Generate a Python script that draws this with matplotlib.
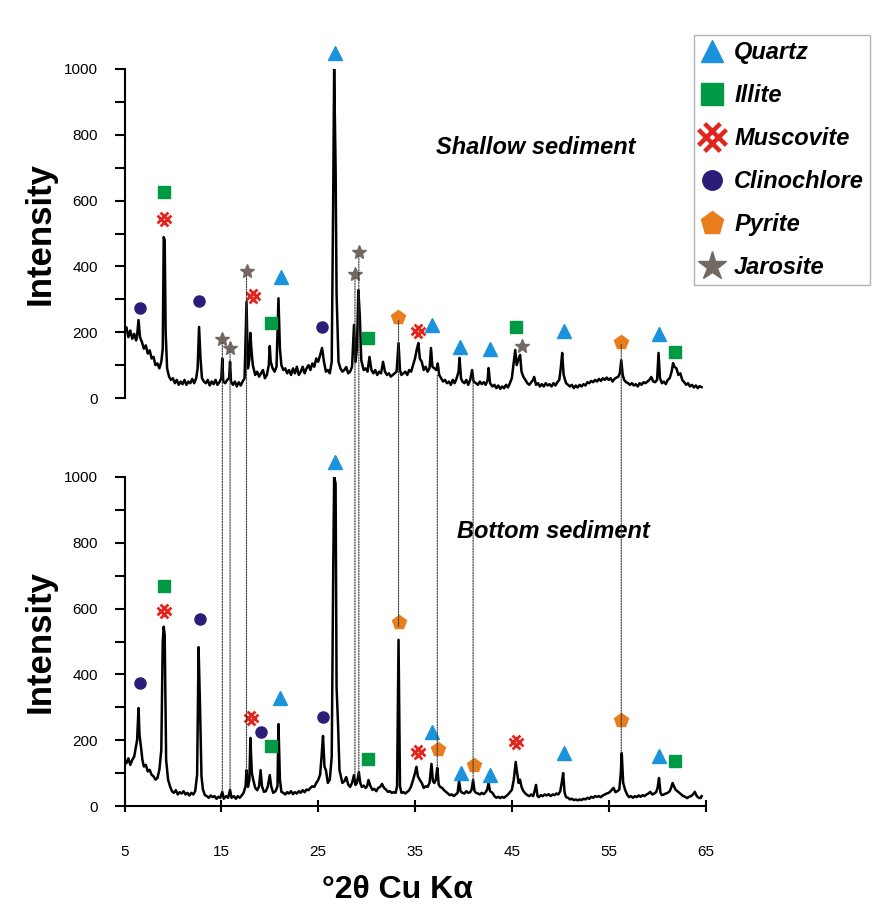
import numpy as np
import matplotlib
matplotlib.use("Agg")
import matplotlib.pyplot as plt
from matplotlib.lines import Line2D
from matplotlib.path import Path
from matplotlib.patches import ConnectionPatch

# =============================================================================
# 1. DIFFRACTOGRAMS (2theta, intensity)
# =============================================================================

shallow_trace = [
    (5.0, 200), (5.2, 215), (5.4, 185), (5.6, 205), (5.8, 180), (6.0, 195), (6.2, 175),
    (6.3, 190), (6.45, 237), (6.6, 185), (6.8, 170), (7.0, 150), (7.2, 160), (7.4, 135),
    (7.6, 145), (7.8, 120), (8.0, 125), (8.2, 100), (8.4, 105), (8.6, 90), (8.8, 110),
    (8.95, 150), (9.05, 489), (9.15, 480), (9.25, 200), (9.4, 90), (9.6, 65), (9.8, 55),
    (10.0, 60), (10.2, 45), (10.4, 55), (10.6, 40), (10.8, 50), (11.0, 42), (11.2, 55),
    (11.4, 40), (11.6, 50), (11.8, 45), (12.0, 58), (12.2, 45), (12.4, 60), (12.55, 90),
    (12.7, 216), (12.85, 120), (13.0, 60), (13.2, 50), (13.4, 45), (13.6, 55), (13.8, 38),
    (14.0, 50), (14.2, 42), (14.4, 55), (14.6, 40), (14.8, 48), (15.0, 60), (15.1, 120),
    (15.2, 50), (15.4, 45), (15.6, 55), (15.8, 60), (15.9, 110), (16.0, 50), (16.2, 40),
    (16.4, 50), (16.6, 35), (16.8, 48), (17.0, 38), (17.2, 50), (17.4, 60), (17.6, 292),
    (17.75, 90), (17.9, 120), (18.0, 198), (18.1, 150), (18.25, 100), (18.5, 70), (18.7, 80),
    (18.9, 65), (19.1, 75), (19.3, 85), (19.5, 60), (19.7, 70), (19.9, 100), (20.0, 158),
    (20.1, 110), (20.3, 90), (20.5, 80), (20.7, 95), (20.9, 303), (21.05, 150), (21.2, 100),
    (21.4, 85), (21.6, 90), (21.8, 75), (22.0, 85), (22.2, 70), (22.4, 90), (22.6, 75),
    (22.8, 95), (23.0, 70), (23.2, 80), (23.4, 95), (23.6, 75), (23.8, 90), (24.0, 100),
    (24.2, 85), (24.4, 105), (24.6, 95), (24.8, 120), (25.0, 110), (25.2, 130), (25.4, 152),
    (25.6, 110), (25.8, 80), (26.0, 85), (26.2, 75), (26.4, 110), (26.55, 600), (26.65, 1000),
    (26.8, 700), (26.9, 318), (27.1, 110), (27.3, 90), (27.5, 80), (27.7, 85), (27.9, 94),
    (28.1, 75), (28.3, 80), (28.5, 95), (28.7, 222), (28.85, 110), (29.0, 150), (29.15, 328),
    (29.3, 250), (29.45, 115), (29.7, 85), (29.9, 90), (30.1, 80), (30.3, 125), (30.5, 85),
    (30.7, 75), (30.9, 85), (31.1, 70), (31.3, 80), (31.5, 75), (31.7, 110), (31.9, 80),
    (32.1, 70), (32.3, 75), (32.5, 65), (32.7, 70), (32.9, 75), (33.1, 80), (33.3, 167),
    (33.45, 85), (33.6, 70), (33.8, 75), (34.0, 80), (34.2, 70), (34.4, 85), (34.6, 80),
    (34.8, 100), (35.0, 120), (35.2, 150), (35.35, 167), (35.5, 120), (35.7, 110), (35.9, 85),
    (36.1, 95), (36.3, 80), (36.5, 90), (36.65, 152), (36.8, 95), (37.0, 90), (37.2, 85),
    (37.35, 105), (37.5, 70), (37.7, 60), (37.9, 50), (38.1, 55), (38.3, 45), (38.5, 50),
    (38.7, 40), (38.9, 55), (39.1, 45), (39.3, 60), (39.5, 80), (39.6, 122), (39.75, 60),
    (39.9, 50), (40.1, 45), (40.3, 55), (40.5, 40), (40.7, 55), (40.9, 85), (41.05, 50),
    (41.3, 45), (41.5, 40), (41.7, 50), (41.9, 42), (42.1, 48), (42.3, 40), (42.5, 55),
    (42.6, 91), (42.75, 45), (43.0, 35), (43.2, 40), (43.4, 30), (43.6, 38), (43.8, 28),
    (44.0, 35), (44.2, 30), (44.4, 40), (44.6, 32), (44.8, 45), (45.0, 60), (45.2, 110),
    (45.35, 146), (45.5, 100), (45.7, 120), (45.85, 131), (46.0, 80), (46.2, 64), (46.4, 55),
    (46.6, 45), (46.8, 40), (47.0, 48), (47.2, 55), (47.3, 64), (47.5, 40), (47.7, 45),
    (47.9, 35), (48.1, 42), (48.3, 35), (48.5, 45), (48.7, 38), (48.9, 42), (49.1, 35),
    (49.3, 45), (49.5, 38), (49.7, 48), (49.9, 55), (50.05, 90), (50.2, 137), (50.35, 70),
    (50.6, 45), (50.8, 40), (51.0, 35), (51.2, 40), (51.4, 30), (51.6, 38), (51.8, 32),
    (52.0, 40), (52.2, 35), (52.4, 42), (52.6, 38), (52.8, 48), (53.0, 45), (53.2, 52),
    (53.4, 48), (53.6, 55), (53.8, 50), (54.0, 58), (54.2, 52), (54.4, 60), (54.6, 55),
    (54.8, 62), (55.0, 55), (55.2, 60), (55.4, 50), (55.6, 58), (55.8, 62), (56.0, 65),
    (56.15, 75), (56.3, 115), (56.45, 70), (56.6, 55), (56.8, 48), (57.0, 45), (57.2, 40),
    (57.4, 45), (57.6, 38), (57.8, 42), (58.0, 35), (58.2, 45), (58.4, 40), (58.6, 48),
    (58.8, 45), (59.0, 50), (59.2, 55), (59.4, 64), (59.6, 50), (59.8, 48), (60.0, 55),
    (60.15, 137), (60.3, 60), (60.5, 45), (60.7, 50), (60.9, 42), (61.1, 55), (61.3, 60),
    (61.5, 80), (61.65, 106), (61.8, 95), (62.0, 90), (62.2, 70), (62.4, 75), (62.6, 55),
    (62.8, 48), (63.0, 40), (63.2, 45), (63.4, 35), (63.6, 40), (63.8, 32), (64.0, 38),
    (64.2, 30), (64.4, 36), (64.6, 33),
]

bottom_trace = [
    (5.0, 140), (5.2, 130), (5.4, 145), (5.6, 125), (5.8, 140), (6.0, 150), (6.15, 175),
    (6.3, 200), (6.45, 298), (6.55, 215), (6.7, 180), (6.85, 140), (7.0, 120), (7.2, 125),
    (7.4, 105), (7.6, 110), (7.8, 95), (8.0, 90), (8.2, 80), (8.4, 85), (8.6, 110),
    (8.8, 170), (8.95, 500), (9.05, 545), (9.15, 520), (9.3, 140), (9.5, 80), (9.7, 60),
    (9.9, 45), (10.1, 40), (10.3, 48), (10.5, 35), (10.7, 42), (10.9, 38), (11.1, 45),
    (11.3, 35), (11.5, 40), (11.7, 32), (11.9, 40), (12.1, 35), (12.3, 45), (12.5, 95),
    (12.65, 483), (12.8, 300), (12.95, 90), (13.1, 50), (13.3, 33), (13.5, 30), (13.7, 25),
    (13.9, 32), (14.1, 27), (14.3, 30), (14.5, 22), (14.7, 28), (14.9, 25), (15.1, 43),
    (15.25, 22), (15.5, 30), (15.7, 25), (15.9, 49), (16.05, 25), (16.3, 30), (16.5, 22),
    (16.7, 30), (16.9, 25), (17.1, 32), (17.3, 40), (17.5, 60), (17.6, 109), (17.75, 58),
    (17.9, 80), (18.0, 207), (18.15, 100), (18.3, 79), (18.5, 55), (18.7, 48), (18.9, 60),
    (19.05, 109), (19.2, 60), (19.4, 43), (19.6, 45), (19.8, 60), (20.0, 94), (20.15, 60),
    (20.35, 40), (20.6, 45), (20.8, 60), (20.9, 249), (21.05, 80), (21.2, 43), (21.4, 40),
    (21.6, 35), (21.8, 42), (22.0, 38), (22.2, 45), (22.4, 36), (22.6, 42), (22.8, 38),
    (23.0, 45), (23.2, 40), (23.4, 48), (23.6, 42), (23.8, 50), (24.0, 48), (24.2, 55),
    (24.4, 60), (24.6, 58), (24.8, 70), (25.0, 79), (25.2, 95), (25.35, 150), (25.5, 213),
    (25.65, 120), (25.8, 109), (26.0, 70), (26.2, 80), (26.4, 150), (26.55, 700), (26.65, 1000),
    (26.8, 980), (26.9, 362), (27.05, 250), (27.2, 109), (27.5, 70), (27.7, 75), (27.9, 88),
    (28.1, 65), (28.3, 58), (28.5, 70), (28.7, 94), (28.85, 64), (29.0, 70), (29.2, 103),
    (29.35, 70), (29.5, 58), (29.7, 62), (29.9, 55), (30.05, 60), (30.2, 79), (30.4, 60),
    (30.6, 49), (30.8, 52), (31.0, 45), (31.2, 55), (31.4, 58), (31.6, 67), (31.8, 55),
    (32.0, 50), (32.2, 43), (32.4, 45), (32.6, 40), (32.8, 42), (33.0, 40), (33.15, 60),
    (33.3, 505), (33.45, 60), (33.6, 40), (33.8, 42), (34.0, 38), (34.2, 43), (34.4, 48),
    (34.6, 60), (34.8, 79), (35.0, 100), (35.15, 119), (35.3, 90), (35.5, 79), (35.7, 70),
    (35.9, 55), (36.1, 60), (36.3, 58), (36.5, 70), (36.7, 128), (36.85, 75), (37.0, 70),
    (37.15, 80), (37.3, 116), (37.45, 65), (37.6, 58), (37.8, 55), (38.0, 48), (38.2, 43),
    (38.4, 38), (38.6, 33), (38.8, 35), (39.0, 30), (39.2, 35), (39.4, 40), (39.55, 76),
    (39.7, 45), (39.9, 40), (40.1, 38), (40.3, 45), (40.5, 40), (40.7, 42), (40.85, 50),
    (41.0, 79), (41.15, 45), (41.3, 40), (41.5, 38), (41.7, 35), (41.9, 40), (42.1, 36),
    (42.3, 42), (42.45, 50), (42.6, 70), (42.75, 45), (43.0, 40), (43.2, 30), (43.4, 25),
    (43.6, 28), (43.8, 24), (44.0, 28), (44.2, 25), (44.4, 30), (44.6, 35), (44.8, 42),
    (45.0, 49), (45.2, 80), (45.4, 134), (45.55, 100), (45.7, 70), (45.85, 80), (46.0, 58),
    (46.2, 45), (46.4, 38), (46.6, 33), (46.8, 30), (47.0, 35), (47.2, 30), (47.35, 45),
    (47.5, 64), (47.65, 30), (47.8, 27), (48.0, 33), (48.2, 30), (48.4, 35), (48.6, 32),
    (48.8, 36), (49.0, 30), (49.2, 35), (49.4, 33), (49.6, 38), (49.8, 35), (50.0, 45),
    (50.15, 70), (50.3, 100), (50.45, 40), (50.6, 27), (50.8, 25), (51.0, 20), (51.2, 22),
    (51.4, 18), (51.6, 20), (51.8, 17), (52.0, 20), (52.2, 18), (52.4, 22), (52.6, 20),
    (52.8, 25), (53.0, 22), (53.2, 28), (53.4, 25), (53.6, 30), (53.8, 28), (54.0, 30),
    (54.2, 27), (54.4, 32), (54.6, 35), (54.8, 38), (55.0, 40), (55.2, 45), (55.5, 55),
    (55.7, 42), (55.9, 45), (56.1, 50), (56.25, 100), (56.35, 161), (56.5, 70), (56.7, 49),
    (56.9, 35), (57.1, 27), (57.3, 30), (57.5, 25), (57.7, 30), (57.9, 27), (58.1, 32),
    (58.3, 28), (58.5, 33), (58.7, 30), (58.9, 35), (59.1, 38), (59.3, 43), (59.5, 35),
    (59.7, 38), (59.9, 42), (60.05, 55), (60.2, 85), (60.35, 40), (60.5, 33), (60.7, 35),
    (60.9, 38), (61.1, 40), (61.3, 45), (61.45, 55), (61.6, 70), (61.75, 60), (61.9, 50),
    (62.1, 45), (62.3, 40), (62.5, 35), (62.7, 30), (62.9, 28), (63.1, 24), (63.3, 28),
    (63.5, 30), (63.7, 35), (63.9, 43), (64.1, 30), (64.3, 25), (64.5, 24), (64.6, 30),
]

# =============================================================================
# 2. PHASE MARKERS (2theta, height of symbol)
# =============================================================================

minerals = ["Quartz", "Illite", "Muscovite", "Clinochlore", "Pyrite", "Jarosite"]

shallow_marks = {
    "Quartz": ([21.2, 26.75, 36.75, 39.6, 42.7, 50.4, 60.15],
               [368, 1049, 222, 155, 149, 204, 195]),
    "Illite": ([9.12, 20.15, 30.15, 45.4, 61.8], [626, 228, 182, 216, 140]),
    "Muscovite": ([9.12, 18.3, 35.3], [544, 310, 204]),
    "Clinochlore": ([6.65, 12.7, 25.4], [274, 295, 216]),
    "Pyrite": ([33.25, 56.3], [246, 170]),
    "Jarosite": ([15.1, 15.9, 17.6, 28.8, 29.2, 46.1], [179, 152, 386, 377, 444, 158]),
}

bottom_marks = {
    "Quartz": ([21.1, 26.75, 36.75, 39.7, 42.7, 50.35, 60.15],
               [327, 1046, 225, 100, 94, 161, 153]),
    "Illite": ([9.12, 20.15, 30.15, 61.8], [669, 182, 143, 137]),
    "Muscovite": ([9.12, 18.1, 35.3, 45.4], [593, 267, 164, 195]),
    "Clinochlore": ([6.55, 12.8, 19.1, 25.5], [374, 568, 226, 271]),
    "Pyrite": ([33.35, 37.35, 41.1, 56.3], [559, 173, 125, 261]),
}

# dotted guide lines: 2theta, start in shallow panel, end in bottom panel
guide_x = [15.1, 15.9, 17.6, 28.8, 29.2, 33.3, 37.3, 41.0, 56.3]
guide_top = [168, 142, 372, 365, 432, 235, 70, 70, 162]
guide_bottom = [40, 45, 100, 90, 95, 545, 112, 75, 160]

# =============================================================================
# 3. STYLE
# =============================================================================

# muscovite symbol: a double-stroked X
_o = 0.28
_verts = [(-1 - _o, -1 + _o), (1 - _o, 1 + _o), (-1 + _o, -1 - _o), (1 + _o, 1 - _o),
          (-1 + _o, 1 + _o), (1 + _o, -1 + _o), (-1 - _o, 1 - _o), (1 - _o, -1 - _o)]
_codes = [Path.MOVETO, Path.LINETO] * 4
musc_marker = Path(_verts, _codes)

styles = {
    "Quartz": dict(marker="^", color="#1b93dc", ms=9.5, big=16),
    "Illite": dict(marker="s", color="#009a44", ms=8.5, big=16),
    "Muscovite": dict(marker=musc_marker, color="#e2261d", ms=10, big=20),
    "Clinochlore": dict(marker="o", color="#2b1d78", ms=8, big=14),
    "Pyrite": dict(marker="p", color="#e87e1e", ms=10, big=17),
    "Jarosite": dict(marker="*", color="#736964", ms=10, big=21),
}

plt.rcParams["font.family"] = ["Liberation Sans", "DejaVu Sans"]


def draw_marks(ax, marks):
    for name, (xs, ys) in marks.items():
        st = styles[name]
        if name == "Muscovite":
            ax.plot(xs, ys, linestyle="none", marker=st["marker"], ms=st["ms"],
                    mfc="none", mec=st["color"], mew=2.0, clip_on=False, zorder=5)
        else:
            ax.plot(xs, ys, linestyle="none", marker=st["marker"], ms=st["ms"],
                    color=st["color"], mec=st["color"], clip_on=False, zorder=5)


def style_axis(ax):
    ax.set_xlim(5, 65)
    ax.set_ylim(0, 1000)
    ax.set_yticks(np.arange(0, 1001, 200))
    ax.set_yticks(np.arange(100, 1000, 200), minor=True)
    ax.tick_params(axis="y", which="both", direction="out", length=7, width=1.5, pad=12,
                   labelsize=11)
    ax.spines["left"].set_linewidth(1.5)
    ax.spines["top"].set_visible(False)
    ax.spines["right"].set_visible(False)
    ax.set_ylabel("Intensity", fontsize=25, fontweight="bold")
    ax.yaxis.set_label_coords(-0.116, 0.5)
    ax.patch.set_alpha(0)


fig = plt.figure(figsize=(8.85, 9.10), dpi=100)
left, width = 124.5 / 885, 581 / 885
ax1 = fig.add_axes([left, 1 - 398 / 910, width, 329 / 910])
ax2 = fig.add_axes([left, 1 - 806 / 910, width, 329 / 910])

sx, sy = zip(*shallow_trace)
bx, by = zip(*bottom_trace)
ax1.plot(sx, sy, color="black", lw=1.8, zorder=3)
ax2.plot(bx, by, color="black", lw=1.8, zorder=3)

style_axis(ax1)
style_axis(ax2)
ax1.spines["bottom"].set_visible(False)
ax1.tick_params(axis="x", which="both", bottom=False, labelbottom=False)

ax2.spines["bottom"].set_linewidth(1.5)
ax2.set_xticks(np.arange(5, 66, 10))
ax2.tick_params(axis="x", direction="inout", length=8, width=1.5, pad=24, labelsize=11)
ax2.set_xlabel("°2θ Cu Kα", fontsize=23, fontweight="bold")
ax2.xaxis.set_label_coords(0.469, -0.21)

draw_marks(ax1, shallow_marks)
draw_marks(ax2, bottom_marks)

for gx, gt, gb in zip(guide_x, guide_top, guide_bottom):
    con = ConnectionPatch(xyA=(gx, gt), coordsA=ax1.transData,
                          xyB=(gx, gb), coordsB=ax2.transData,
                          linestyle=(0, (1.2, 1.2)), lw=0.8, color="#333333", zorder=1)
    fig.add_artist(con)

ax1.text(47.5, 760, "Shallow sediment", fontsize=17, fontweight="bold", style="italic",
         ha="center", va="center")
ax2.text(49.3, 833, "Bottom sediment", fontsize=17, fontweight="bold", style="italic",
         ha="center", va="center")

handles = []
for name in minerals:
    st = styles[name]
    if name == "Muscovite":
        h = Line2D([], [], linestyle="none", marker=st["marker"], ms=st["big"],
                   mfc="none", mec=st["color"], mew=3.2)
    else:
        h = Line2D([], [], linestyle="none", marker=st["marker"], ms=st["big"],
                   color=st["color"], mec=st["color"])
    handles.append(h)

leg = fig.legend(handles, minerals, loc="upper left",
                 bbox_to_anchor=(694 / 885, 1 - 35 / 910),
                 prop=dict(size=17, weight="bold", style="italic"),
                 frameon=True, fancybox=False, edgecolor="#a0a0a0",
                 handlelength=1.0, handletextpad=0.45, labelspacing=0.85,
                 borderpad=0.25, borderaxespad=0.0)
leg.get_frame().set_linewidth(1.0)

fig.savefig("out.png", dpi=100)
